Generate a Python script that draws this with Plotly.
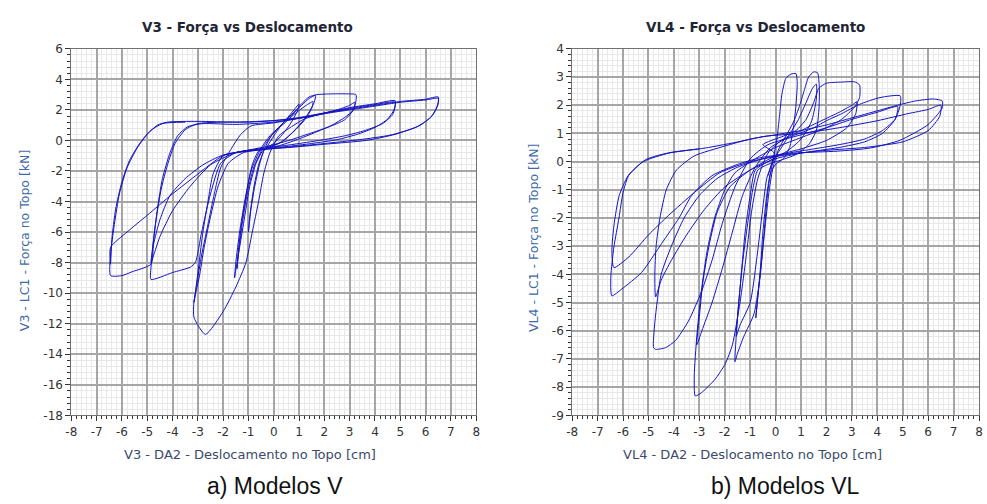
import plotly.graph_objects as go

# ---------------- V3 : force vs displacement ----------------
v3_c1_x = [-0.3, 0.0, 0.3, 0.6, 0.85, 1.0, 0.95, 0.7, 0.35, 0.0, -0.35, -0.55, -0.75, -0.9, -1.0, -0.95, -0.8, -0.6, -0.35, -0.1]
v3_c1_y = [-0.5, 0.3, 1.0, 1.6, 2.1, 2.4, 2.0, 1.2, 0.4, -0.2, -0.55, -1.5, -3.0, -4.5, -6.0, -5.0, -3.2, -1.6, -0.5, 0.3]
v3_c2_x = [0.3, 0.7, 1.1, 1.4, 1.65, 1.6, 1.3, 0.9, 0.4, 0.0, -0.4, -0.7, -0.95, -1.15, -1.35, -1.5, -1.55, -1.5, -1.35, -1.15, -0.9, -0.5, -0.1]
v3_c2_y = [1.0, 1.7, 2.3, 2.75, 2.95, 2.5, 1.6, 0.8, 0.0, -0.35, -0.6, -1.5, -3.0, -5.0, -7.0, -8.5, -9.0, -8.0, -6.0, -4.0, -2.0, -0.5, 0.4]
v3_c3_x = [0.4, 0.8, 1.2, 1.55, 1.5, 1.2, 0.8, 0.3, -0.2, -0.6, -0.85, -1.05, -1.25, -1.4, -1.45, -1.4, -1.25, -1.05, -0.8, -0.4, 0.0]
v3_c3_y = [1.1, 1.7, 2.2, 2.55, 2.1, 1.3, 0.6, -0.1, -0.45, -0.7, -1.6, -3.2, -5.2, -7.2, -8.4, -7.5, -5.5, -3.5, -1.8, -0.4, 0.5]
v3_c4_x = [0.4, 0.8, 1.1, 1.4, 1.7, 2.3, 2.9, 3.25, 3.25, 3.15, 2.8, 2.3, 1.6, 1.0, 0.3, -0.5, -1.2, -1.8, -2.2, -2.5, -2.75, -2.95, -3.15, -3.15, -2.7, -2.0, -1.5, -1.1, -0.85, -0.6, -0.4, -0.15, 0.2]
v3_c4_y = [1.2, 1.8, 2.4, 2.85, 3.0, 3.05, 3.05, 3.0, 2.6, 2.0, 1.5, 1.0, 0.5, 0.1, -0.3, -0.6, -0.8, -1.5, -3.0, -5.0, -7.0, -9.0, -10.5, -11.6, -12.7, -11.2, -9.6, -8.0, -6.0, -4.0, -2.2, -0.8, 0.3]
v3_c5_x = [0.7, 1.2, 1.8, 2.5, 3.0, 3.2, 3.15, 2.8, 2.2, 1.5, 0.6, -0.3, -1.2, -2.0, -2.4, -2.6, -2.8, -2.95, -3.1, -3.15, -3.05, -2.85, -2.6, -2.35, -2.1, -1.7, -1.3, -0.9]
v3_c5_y = [0.9, 1.4, 1.7, 2.0, 2.3, 2.5, 2.0, 1.35, 0.9, 0.5, 0.0, -0.4, -0.7, -1.0, -2.2, -4.0, -6.0, -8.0, -10.0, -10.6, -9.5, -7.5, -5.5, -3.5, -1.8, -0.6, 0.4, 0.95]
v3_c6_x = [0.0, 1.0, 2.0, 3.0, 4.0, 4.8, 4.75, 4.5, 4.0, 3.3, 2.5, 1.5, 0.5, -0.5, -1.5, -2.1, -2.5, -2.85, -3.1, -3.3, -4.0, -4.85, -4.85, -4.75, -4.6, -4.4, -4.1, -3.8, -3.4, -2.8, -1.5]
v3_c6_y = [1.15, 1.45, 1.8, 2.15, 2.4, 2.6, 2.0, 1.4, 0.85, 0.4, 0.05, -0.2, -0.4, -0.55, -0.8, -1.5, -3.5, -6.0, -8.0, -8.3, -8.65, -9.1, -8.3, -6.5, -4.5, -2.5, -0.8, 0.3, 0.9, 1.1, 1.05]
v3_c7_x = [0.0, 1.5, 3.0, 4.0, 4.8, 4.7, 4.3, 3.6, 2.8, 1.8, 0.8, -0.3, -1.5, -2.5, -3.3, -4.0, -4.5, -4.85, -4.8, -4.65, -4.45, -4.2, -3.9, -3.5, -3.0, -2.0]
v3_c7_y = [1.2, 1.6, 2.1, 2.35, 2.5, 1.7, 1.1, 0.65, 0.3, 0.0, -0.25, -0.5, -0.8, -1.6, -3.0, -4.6, -6.3, -8.0, -7.2, -5.2, -3.2, -1.6, -0.2, 0.7, 1.1, 1.2]
v3_c8_x = [-1.0, 0.0, 1.0, 2.0, 3.0, 4.0, 5.0, 6.0, 6.5, 6.5, 6.3, 5.8, 4.8, 3.65, 2.0, 0.7, -0.9, -2.0, -2.8, -3.5, -4.1, -4.5, -4.75, -4.85, -5.6, -6.0, -6.45, -6.45, -6.3, -6.1, -5.8, -5.4, -5.0, -4.6, -4.2, -3.0, -1.5, 0.0]
v3_c8_y = [1.2, 1.3, 1.5, 1.8, 2.05, 2.3, 2.55, 2.7, 2.85, 2.4, 1.7, 1.0, 0.4, 0.0, -0.25, -0.45, -0.65, -0.95, -1.6, -2.5, -3.6, -5.2, -6.8, -8.1, -8.6, -8.85, -8.85, -7.5, -5.5, -3.5, -1.8, -0.5, 0.4, 1.0, 1.2, 1.25, 1.2, 1.3]
v3_c9_x = [1.0, 2.0, 3.0, 4.0, 5.0, 6.0, 6.5, 6.45, 6.2, 5.6, 4.6, 3.4, 2.0, 0.5, -1.0, -2.0, -3.0, -4.0, -5.0, -5.8, -6.45, -6.45, -6.4, -6.25, -6.0, -5.7, -5.3, -4.9, -4.4, -3.5]
v3_c9_y = [1.45, 1.75, 2.0, 2.25, 2.5, 2.65, 2.75, 2.2, 1.5, 0.85, 0.35, 0.05, -0.2, -0.45, -0.7, -1.0, -2.2, -3.5, -4.9, -6.0, -7.0, -8.1, -6.5, -4.5, -2.7, -1.3, -0.2, 0.6, 1.1, 1.2]

# ---------------- VL4 : force vs displacement ----------------
vl4_c1_x = [-0.3, -0.1, 0.05, 0.15, 0.25, 0.4, 0.6, 0.8, 0.85, 0.8, 0.7, 0.55, 0.3, 0.0, -0.2, -0.35, -0.5, -0.6, -0.7, -0.78, -0.7, -0.55, -0.4, -0.25, -0.1, 0.1]
vl4_c1_y = [-0.5, 0.1, 0.8, 1.6, 2.4, 2.95, 3.1, 3.12, 2.8, 2.0, 1.2, 0.5, 0.1, -0.1, -0.4, -1.2, -2.5, -3.8, -4.8, -5.55, -4.8, -3.5, -2.2, -1.0, -0.2, 0.4]
vl4_c2_x = [0.4, 0.7, 0.95, 1.15, 1.3, 1.5, 1.65, 1.72, 1.7, 1.6, 1.3, 0.8, 0.2, -0.3, -0.7, -0.9, -1.1, -1.3, -1.45, -1.55, -1.6, -1.5, -1.25, -0.85, -0.6, -0.45, -0.3, -0.1, 0.3]
vl4_c2_y = [0.9, 1.4, 2.0, 2.6, 3.0, 3.18, 3.15, 2.6, 1.8, 1.1, 0.6, 0.25, 0.05, -0.1, -0.3, -1.0, -2.2, -3.6, -5.0, -6.2, -7.1, -6.8, -6.2, -5.4, -4.0, -2.5, -1.0, 0.0, 0.6]
vl4_c3_x = [0.5, 0.9, 1.2, 1.45, 1.6, 1.6, 1.4, 1.0, 0.5, -0.2, -0.8, -1.0, -1.2, -1.35, -1.5, -1.55, -1.4, -1.0, -0.75, -0.55, -0.35, -0.05]
vl4_c3_y = [0.9, 1.5, 2.1, 2.6, 2.75, 2.2, 1.4, 0.8, 0.4, 0.05, -0.3, -1.2, -2.5, -4.0, -5.5, -6.2, -5.8, -5.0, -3.5, -2.0, -0.6, 0.3]
vl4_c4_x = [-0.5, 0.3, 0.8, 1.2, 1.5, 1.7, 2.0, 2.6, 3.1, 3.3, 3.3, 3.1, 2.6, 2.0, 1.0, 0.0, -0.8, -1.6, -2.0, -2.4, -2.7, -2.95, -3.1, -3.2, -3.16, -2.92, -2.38, -1.98, -1.7, -1.4, -1.15, -0.95, -0.7, -0.3, 0.3]
vl4_c4_y = [0.6, 0.9, 1.1, 1.5, 2.1, 2.6, 2.78, 2.82, 2.83, 2.72, 2.27, 1.93, 1.5, 1.2, 0.85, 0.5, 0.1, -0.4, -1.0, -2.0, -3.2, -4.8, -6.2, -7.6, -8.31, -8.2, -7.72, -7.17, -6.5, -5.0, -3.3, -1.8, -0.6, 0.3, 0.8]
vl4_c5_x = [1.0, 1.8, 2.5, 3.0, 3.2, 3.15, 2.8, 2.0, 1.0, 0.0, -1.0, -1.8, -2.3, -2.6, -2.85, -3.0, -3.1, -2.9, -2.5, -2.1, -1.7, -1.3, -0.8, -0.2]
vl4_c5_y = [1.1, 1.45, 1.75, 2.0, 2.12, 1.7, 1.2, 0.75, 0.45, 0.2, -0.3, -0.9, -1.8, -2.9, -4.2, -5.5, -6.5, -6.0, -5.0, -3.8, -2.5, -1.2, -0.2, 0.5]
vl4_c6_x = [0.5, 1.5, 2.0, 2.6, 3.3, 4.1, 4.9, 4.9, 4.7, 4.2, 3.5, 2.5, 1.5, 0.5, -0.5, -1.5, -2.3, -3.0, -3.6, -4.1, -4.5, -4.75, -4.8, -4.72, -4.33, -3.94, -3.43, -2.92, -2.5, -2.1, -1.6, -1.0, -0.3]
vl4_c6_y = [0.85, 1.2, 1.45, 1.7, 2.03, 2.27, 2.33, 2.0, 1.5, 1.1, 0.8, 0.6, 0.45, 0.3, 0.1, -0.2, -0.6, -1.2, -2.0, -3.0, -4.0, -5.7, -6.6, -6.66, -6.6, -6.35, -5.66, -4.62, -3.5, -2.2, -0.9, 0.1, 0.6]
vl4_c7_x = [1.0, 2.0, 3.0, 4.0, 4.8, 4.7, 4.2, 3.5, 2.5, 1.0, 0.0, -1.0, -2.0, -2.8, -3.5, -4.1, -4.5, -4.72, -4.75, -4.7, -4.55, -4.3, -3.9, -3.2, -2.0, -1.0]
vl4_c7_y = [0.95, 1.2, 1.5, 1.75, 1.95, 1.5, 1.0, 0.7, 0.5, 0.3, 0.1, -0.3, -0.9, -1.7, -2.6, -3.5, -4.2, -4.8, -4.0, -3.0, -2.0, -1.0, -0.3, 0.2, 0.55, 0.8]
vl4_c8_x = [0.0, 1.0, 2.0, 3.0, 4.0, 4.8, 5.5, 6.2, 6.55, 6.55, 6.3, 5.95, 4.9, 3.72, 2.43, 0.75, -0.58, -1.5, -2.5, -3.3, -3.8, -4.48, -5.27, -6.05, -6.44, -6.48, -6.36, -6.16, -6.0, -5.77, -5.11, -4.21, -2.77, -1.36, -0.4]
vl4_c8_y = [0.95, 1.1, 1.3, 1.55, 1.8, 2.0, 2.15, 2.22, 2.15, 1.9, 1.6, 1.28, 0.76, 0.48, 0.37, 0.3, 0.14, -0.1, -0.5, -1.2, -2.0, -2.9, -3.93, -4.52, -4.76, -4.07, -3.03, -2.0, -1.1, -0.48, 0.07, 0.31, 0.48, 0.72, 0.9]
vl4_c9_x = [1.0, 2.5, 4.0, 5.2, 6.0, 6.5, 6.45, 6.0, 5.0, 3.5, 2.0, 0.5, -1.0, -2.2, -3.2, -4.2, -5.0, -5.77, -6.36, -6.44, -6.35, -6.15, -5.8, -5.2, -4.2, -3.0]
vl4_c9_y = [1.0, 1.2, 1.45, 1.7, 1.85, 2.0, 1.6, 1.1, 0.7, 0.5, 0.4, 0.25, 0.0, -0.4, -1.1, -1.9, -2.6, -3.38, -3.76, -3.14, -2.2, -1.2, -0.5, 0.0, 0.3, 0.45]

v3_cycles = [(v3_c1_x, v3_c1_y), (v3_c2_x, v3_c2_y), (v3_c3_x, v3_c3_y), (v3_c4_x, v3_c4_y),
             (v3_c5_x, v3_c5_y), (v3_c6_x, v3_c6_y), (v3_c7_x, v3_c7_y), (v3_c8_x, v3_c8_y),
             (v3_c9_x, v3_c9_y)]
vl4_cycles = [(vl4_c1_x, vl4_c1_y), (vl4_c2_x, vl4_c2_y), (vl4_c3_x, vl4_c3_y), (vl4_c4_x, vl4_c4_y),
              (vl4_c5_x, vl4_c5_y), (vl4_c6_x, vl4_c6_y), (vl4_c7_x, vl4_c7_y), (vl4_c8_x, vl4_c8_y),
              (vl4_c9_x, vl4_c9_y)]

x_ticks = list(range(-8, 9))
v3_y_ticks = list(range(-18, 7, 2))
vl4_y_ticks = list(range(-9, 5))

LINE = "#1414C0"
W, H = 987, 504

fig = go.Figure()


def add_model(cycles, xa, ya):
    xs, ys = [], []
    for cx, cy in cycles:
        xs += cx
        ys += cy
    fig.add_trace(go.Scatter(x=xs, y=ys, mode="lines", xaxis=xa, yaxis=ya,
                             line=dict(color=LINE, width=1, shape="spline", smoothing=0.6),
                             showlegend=False, hoverinfo="skip"))


add_model(v3_cycles, "x", "y")
add_model(vl4_cycles, "x2", "y2")

tickfont = dict(family="DejaVu Sans", size=12, color="#333333")
grid_major = "#a6a6a6"
grid_minor = "#e8e8e8"


def labels(vals):
    return [str(v) for v in vals]  # plain hyphen minus, as in the original


def xaxis_def(domain, anchor):
    return dict(domain=domain, anchor=anchor, range=[-8, 8], tickvals=x_ticks, ticktext=labels(x_ticks),
                ticks="outside", ticklen=5, tickcolor="#333333", tickfont=tickfont,
                showgrid=True, gridcolor=grid_major, gridwidth=2, zeroline=False,
                showline=True, linecolor="#707070", mirror=True,
                minor=dict(dtick=0.2, tick0=0, ticks="outside", ticklen=3, tickcolor="#333333",
                           showgrid=True, gridcolor=grid_minor, gridwidth=1))


def yaxis_def(domain, anchor, rng, tv, mdt):
    return dict(domain=domain, anchor=anchor, range=rng, tickvals=tv, ticktext=labels(tv),
                ticks="outside", ticklen=5, tickcolor="#333333", tickfont=tickfont,
                showgrid=True, gridcolor=grid_major, gridwidth=2, zeroline=False,
                showline=True, linecolor="#707070", mirror=True,
                minor=dict(dtick=mdt, tick0=0, ticks="outside", ticklen=3, tickcolor="#333333",
                           showgrid=True, gridcolor=grid_minor, gridwidth=1))


ydom = [1 - 420 / H, 1 - 43 / H]
fig.update_layout(
    width=W, height=H, margin=dict(l=0, r=0, t=0, b=0),
    paper_bgcolor="white", plot_bgcolor="white",
    xaxis=xaxis_def([66 / W, 475 / W], "y"),
    yaxis=yaxis_def(ydom, "x", [-18, 6], v3_y_ticks, 0.4),
    xaxis2=xaxis_def([572 / W, 983 / W], "y2"),
    yaxis2=yaxis_def(ydom, "x2", [-9, 4], vl4_y_ticks, 0.2),
)

ann = []
title_font = dict(family="DejaVu Sans", size=13.5, color="#1E2535")
ann.append(dict(text="<b>V3 - Força vs Deslocamento</b>", x=244 / W, y=1 - 21 / H, font=title_font))
ann.append(dict(text="<b>VL4 - Força vs Deslocamento</b>", x=757 / W, y=1 - 21 / H, font=title_font))
xt_font = dict(family="DejaVu Sans", size=13, color="#3B4A6B")
ann.append(dict(text="V3 - DA2 - Deslocamento no Topo [cm]", x=247 / W, y=1 - 460 / H, font=xt_font))
ann.append(dict(text="VL4 - DA2 - Deslocamento no Topo [cm]", x=754 / W, y=1 - 460 / H, font=xt_font))
yt_font = dict(family="DejaVu Sans", size=12.5, color="#3E6AA8")
ann.append(dict(text="V3 - LC1 - Força no Topo [kN]", x=19 / W, y=1 - 240 / H, textangle=-90, font=yt_font))
ann.append(dict(text="VL4 - LC1 - Força no Topo [kN]", x=533 / W, y=1 - 238 / H, textangle=-90, font=yt_font))
cap_font = dict(family="Liberation Sans", size=23, color="#111111")
ann.append(dict(text="a) Modelos V", x=272 / W, y=1 - 493 / H, font=cap_font))
ann.append(dict(text="b) Modelos VL", x=787 / W, y=1 - 493 / H, font=cap_font))

for a in ann:
    a.update(xref="paper", yref="paper", showarrow=False, xanchor="center", yanchor="middle")
fig.update_layout(annotations=ann)

fig.write_html("out.html")
